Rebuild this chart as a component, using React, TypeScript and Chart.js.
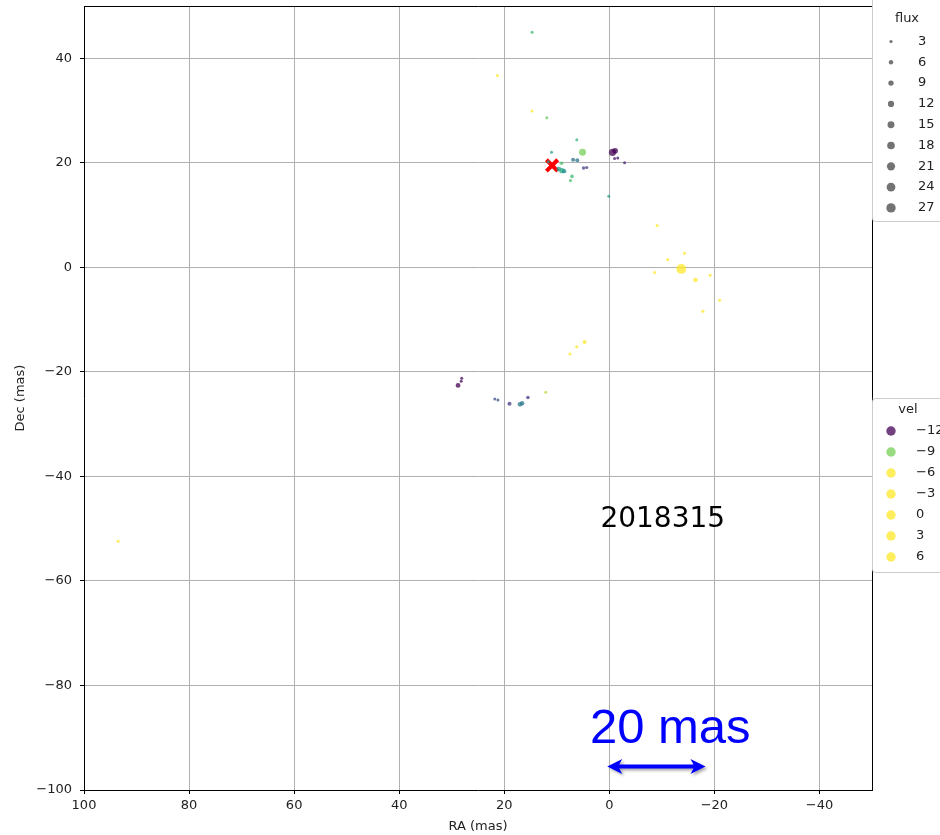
import { useEffect, useRef } from "react";
import { Chart, registerables } from "chart.js";

Chart.register(...registerables);

// Maser spots: offsets in mas, LSR velocity (km/s) and flux density
const ra = [
  9.6, 9.0, 8.6, 9.1, 11.6, 11.0, 6.2, 5.1, 6.9, 6.1, 4.9, 4.3, 7.1, 7.4,
  -0.6, -1.1, -1.6, -1.0, -2.9, 0.1, 14.7, 11.9, 21.3, 14.7,
  -9.1, -14.3, -11.1, -13.7, -8.6, -16.4, -19.2, -21.0, -17.8,
  4.7, 6.2, 7.5,
  28.1, 28.2, 28.8, 21.8, 21.2, 19.0, 17.0, 16.6, 15.5, 12.1,
  93.5,
];
const dec = [
  18.8, 18.5, 18.4, 19.9, 20.2, 22.0, 24.4, 22.0, 20.6, 20.5, 19.0, 19.1, 17.4, 16.6,
  22.0, 22.3, 20.9, 20.8, 20.0, 13.6, 45.0, 28.6, 36.7, 29.9,
  8.0, 2.7, 1.5, -0.3, -1.0, -2.4, -1.5, -6.3, -8.4,
  -14.3, -15.2, -16.6,
  -21.2, -21.8, -22.6, -25.2, -25.4, -26.1, -26.2, -26.0, -24.9, -23.9,
  -52.4,
];
const vel = [
  -9.9, -9.7, -10.1, -9.3, -10.0, -9.8, -9.5, -9.0, -10.6, -10.5, -11.2, -11.3, -9.4, -9.3,
  -12.0, -12.0, -11.8, -11.8, -11.7, -9.8, -9.4, -9.1, -6.0, -5.0,
  -4.0, -3.0, -4.0, -2.0, -5.0, -2.0, -1.0, -1.0, -2.0,
  -5.0, -5.0, -5.0,
  -11.9, -11.9, -12.0, -11.1, -11.1, -11.4, -10.4, -10.5, -11.4, -8.8,
  -5.0,
];
const flux = [
  7, 9, 6, 4, 3, 2, 2, 15, 5, 5, 4, 3, 4, 3,
  16, 10, 2, 2, 1.5, 1.5, 1.5, 1.5, 1.5, 1.5,
  2, 2, 2, 30, 2, 6, 2, 1.5, 3,
  5, 3, 2,
  2, 2, 7, 2, 2, 5, 7, 6, 4, 3,
  1.5,
];

// Reference position
const refRa = [10.9];
const refDec = [19.5];

const xTicks = [100, 80, 60, 40, 20, 0, -20, -40];
const yTicks = [40, 20, 0, -20, -40, -60, -80, -100];
const fluxLegend = [3, 6, 9, 12, 15, 18, 21, 24, 27];
const velLegend = [-12, -9, -6, -3, 0, 3, 6];

const epochLabel = "2018315";
const epochPos = [1.7, -48.2];
const scaleLabel = "20 mas";
const scaleLabelPos = [-11.6, -91.1];
const scaleBarRa = [0.4, -18.3];
const scaleBarDec = -95.5;

const VMIN = -12;
const VMAX = -8.6;
const VIRIDIS: number[][] = [
  [68, 1, 84], [72, 40, 120], [62, 73, 137], [49, 104, 142], [38, 130, 142],
  [31, 158, 137], [53, 183, 121], [110, 206, 88], [253, 231, 37],
];

function viridis(v: number, alpha: number): string {
  let t = (v - VMIN) / (VMAX - VMIN);
  t = Math.max(0, Math.min(1, t));
  const p = t * (VIRIDIS.length - 1);
  const i = Math.min(VIRIDIS.length - 2, Math.floor(p));
  const f = p - i;
  const a = VIRIDIS[i];
  const b = VIRIDIS[i + 1];
  const c = a.map((x, k) => Math.round(x + (b[k] - x) * f));
  return `rgba(${c[0]},${c[1]},${c[2]},${alpha})`;
}

const sizeOf = (f: number) => Math.max(1.5, 0.9 * Math.sqrt(f));
const minus = (v: number) => String(v).replace("-", "\u2212");

const FONT = "'DejaVu Sans', sans-serif";

const overlayPlugin = {
  id: "overlay",
  afterDraw(chart: any) {
    const ctx = chart.ctx as CanvasRenderingContext2D;
    const { left, right, top, bottom } = chart.chartArea;
    const xs = chart.scales.x;
    const ys = chart.scales.y;
    ctx.save();

    // top and right spines
    ctx.strokeStyle = "#000";
    ctx.lineWidth = 1;
    ctx.beginPath();
    ctx.moveTo(left, Math.round(top) + 0.5);
    ctx.lineTo(Math.round(right) + 0.5, Math.round(top) + 0.5);
    ctx.lineTo(Math.round(right) + 0.5, bottom);
    ctx.stroke();

    // epoch label
    ctx.fillStyle = "#000";
    ctx.font = `28px ${FONT}`;
    ctx.textAlign = "left";
    ctx.textBaseline = "middle";
    ctx.fillText(epochLabel, xs.getPixelForValue(epochPos[0]), ys.getPixelForValue(epochPos[1]));

    // scale bar
    ctx.fillStyle = "#0000ff";
    ctx.font = `49px 'Liberation Sans', Arial, sans-serif`;
    ctx.textAlign = "center";
    ctx.textBaseline = "alphabetic";
    ctx.fillText(scaleLabel, xs.getPixelForValue(scaleLabelPos[0]), ys.getPixelForValue(scaleLabelPos[1]));

    const x0 = xs.getPixelForValue(scaleBarRa[0]);
    const x1 = xs.getPixelForValue(scaleBarRa[1]);
    const yb = ys.getPixelForValue(scaleBarDec);
    const head = 15;
    const hh = 7.5;
    ctx.save();
    ctx.shadowColor = "rgba(0,0,0,0.35)";
    ctx.shadowBlur = 3;
    ctx.shadowOffsetX = 2;
    ctx.shadowOffsetY = 2;
    ctx.fillStyle = "#0000ff";
    ctx.beginPath();
    ctx.moveTo(x0, yb);
    ctx.lineTo(x0 + head, yb - hh);
    ctx.lineTo(x0 + head - 3, yb - 2);
    ctx.lineTo(x1 - head + 3, yb - 2);
    ctx.lineTo(x1 - head, yb - hh);
    ctx.lineTo(x1, yb);
    ctx.lineTo(x1 - head, yb + hh);
    ctx.lineTo(x1 - head + 3, yb + 2);
    ctx.lineTo(x0 + head - 3, yb + 2);
    ctx.lineTo(x0 + head, yb + hh);
    ctx.closePath();
    ctx.fill();
    ctx.restore();

    // legend boxes
    const drawBox = (x: number, y: number, w: number, h: number) => {
      ctx.beginPath();
      if ((ctx as any).roundRect) (ctx as any).roundRect(x, y, w, h, 3);
      else ctx.rect(x, y, w, h);
      ctx.fillStyle = "rgba(255,255,255,0.85)";
      ctx.fill();
      ctx.strokeStyle = "#cccccc";
      ctx.lineWidth = 1;
      ctx.stroke();
    };
    const boxX = Math.round(right) + 0.5;
    ctx.font = `13px ${FONT}`;

    // flux legend
    drawBox(boxX, -4.5, 100, 226);
    ctx.fillStyle = "#222";
    ctx.textAlign = "center";
    ctx.textBaseline = "middle";
    ctx.fillText("flux", 907, 19);
    fluxLegend.forEach((f, i) => {
      const y = 41.5 + i * 20.8;
      ctx.fillStyle = "rgba(80,80,80,0.8)";
      ctx.beginPath();
      ctx.arc(891, y, sizeOf(f), 0, Math.PI * 2);
      ctx.fill();
      ctx.fillStyle = "#222";
      ctx.textAlign = "left";
      ctx.fillText(String(f), 918, y);
    });

    // velocity legend
    drawBox(boxX, 398.5, 100, 174);
    ctx.fillStyle = "#222";
    ctx.textAlign = "center";
    ctx.fillText("vel", 908, 410);
    velLegend.forEach((v, i) => {
      const y = 431 + i * 21;
      ctx.fillStyle = viridis(v, 0.75);
      ctx.beginPath();
      ctx.arc(891, y, 4.7, 0, Math.PI * 2);
      ctx.fill();
      ctx.fillStyle = "#222";
      ctx.textAlign = "left";
      ctx.fillText(minus(v), 916, y);
    });

    ctx.restore();
  },
};

export default function App() {
  const ref = useRef<HTMLCanvasElement | null>(null);

  useEffect(() => {
    if (!ref.current) return;
    const spots = ra.map((x, i) => ({ x, y: dec[i] }));
    const refPts = refRa.map((x, i) => ({ x, y: refDec[i] }));

    const chart = new Chart(ref.current, {
      type: "scatter",
      data: {
        datasets: [
          {
            label: "spots",
            data: spots,
            backgroundColor: vel.map((v) => viridis(v, 0.75)),
            borderWidth: 0,
            pointRadius: flux.map(sizeOf),
          },
          {
            label: "reference",
            data: refPts,
            pointStyle: "crossRot",
            borderColor: "#ff0000",
            backgroundColor: "#ff0000",
            borderWidth: 4,
            pointRadius: 8,
          },
        ],
      },
      options: {
        responsive: false,
        animation: false,
        layout: { autoPadding: false, padding: { top: 6, right: 68, left: 0, bottom: 0 } },
        plugins: {
          legend: { display: false },
          tooltip: { enabled: false },
        },
        scales: {
          x: {
            type: "linear",
            reverse: true,
            min: -50,
            max: 100,
            afterBuildTicks: (s: any) => {
              s.ticks = xTicks.map((v) => ({ value: v }));
            },
            afterFit: (s: any) => {
              s.height = 45;
              s.paddingLeft = 0;
              s.paddingRight = 0;
            },
            ticks: {
              color: "#222",
              font: { family: FONT, size: 13 },
              padding: 4,
              maxRotation: 0,
              callback: (v: any) => minus(Number(v)),
            },
            grid: { color: "#b0b0b0", lineWidth: 1, tickColor: "#000", tickLength: 4 },
            border: { color: "#000", width: 1 },
            title: {
              display: true,
              text: "RA (mas)",
              color: "#222",
              font: { family: FONT, size: 13 },
              padding: { top: 0, bottom: 1 },
            },
          },
          y: {
            type: "linear",
            min: -100,
            max: 50,
            afterBuildTicks: (s: any) => {
              s.ticks = yTicks.map((v) => ({ value: v }));
            },
            afterFit: (s: any) => {
              s.width = 84;
              s.paddingTop = 0;
              s.paddingBottom = 0;
            },
            ticks: {
              color: "#222",
              font: { family: FONT, size: 13 },
              padding: 8,
              callback: (v: any) => minus(Number(v)),
            },
            grid: { color: "#b0b0b0", lineWidth: 1, tickColor: "#000", tickLength: 4 },
            border: { color: "#000", width: 1 },
            title: {
              display: true,
              text: "Dec (mas)",
              color: "#222",
              font: { family: FONT, size: 13 },
              padding: { top: 13, bottom: 0 },
            },
          },
        },
      },
      plugins: [overlayPlugin],
    });

    return () => chart.destroy();
  }, []);

  return (
    <div style={{ position: "absolute", left: 0, top: 0, width: 940, height: 835, background: "#fff" }}>
      <canvas ref={ref} width={940} height={835} />
    </div>
  );
}
